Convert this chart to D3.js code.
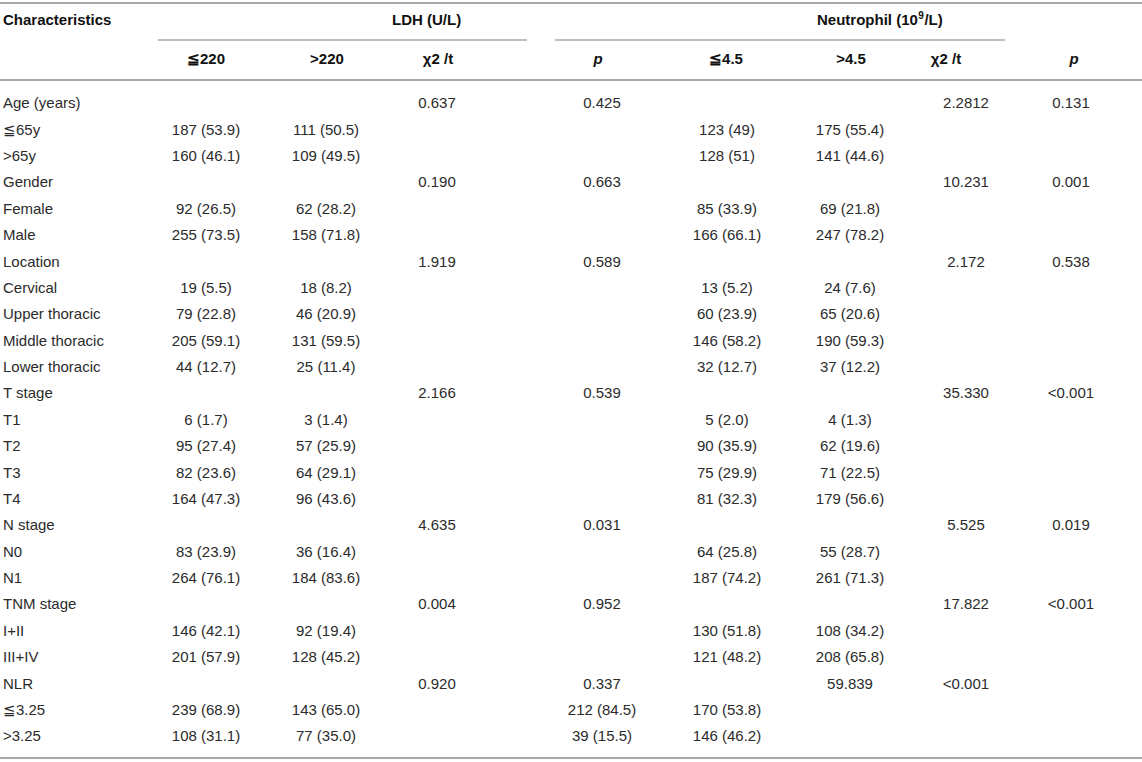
<!DOCTYPE html>
<html>
<head>
<meta charset="utf-8">
<script src="https://cdn.jsdelivr.net/npm/d3@7"></script>
<style>
  html, body { margin: 0; padding: 0; background: #fff; }
  svg { display: block; font-family: "Liberation Sans", Arial, Helvetica, sans-serif; }
</style>
</head>
<body>
<svg id="chart" width="1142" height="762"></svg>
<script>
// ---------------- data ----------------
const characteristics = ["Age (years)", "≦65y", ">65y", "Gender", "Female", "Male", "Location", "Cervical",
  "Upper thoracic", "Middle thoracic", "Lower thoracic", "T stage", "T1", "T2", "T3", "T4", "N stage", "N0", "N1",
  "TNM stage", "I+II", "III+IV", "NLR", "≦3.25", ">3.25"];

const ldhLow = ["", "187 (53.9)", "160 (46.1)", "", "92 (26.5)", "255 (73.5)", "", "19 (5.5)", "79 (22.8)", "205 (59.1)",
  "44 (12.7)", "", "6 (1.7)", "95 (27.4)", "82 (23.6)", "164 (47.3)", "", "83 (23.9)", "264 (76.1)", "", "146 (42.1)",
  "201 (57.9)", "", "239 (68.9)", "108 (31.1)"];
const ldhHigh = ["", "111 (50.5)", "109 (49.5)", "", "62 (28.2)", "158 (71.8)", "", "18 (8.2)", "46 (20.9)", "131 (59.5)",
  "25 (11.4)", "", "3 (1.4)", "57 (25.9)", "64 (29.1)", "96 (43.6)", "", "36 (16.4)", "184 (83.6)", "", "92 (19.4)",
  "128 (45.2)", "", "143 (65.0)", "77 (35.0)"];
const ldhChi = ["0.637", "", "", "0.190", "", "", "1.919", "", "", "", "", "2.166", "", "", "", "", "4.635", "", "",
  "0.004", "", "", "0.920", "", ""];
const ldhP = ["0.425", "", "", "0.663", "", "", "0.589", "", "", "", "", "0.539", "", "", "", "", "0.031", "", "",
  "0.952", "", "", "0.337", "212 (84.5)", "39 (15.5)"];
const neuLow = ["", "123 (49)", "128 (51)", "", "85 (33.9)", "166 (66.1)", "", "13 (5.2)", "60 (23.9)", "146 (58.2)",
  "32 (12.7)", "", "5 (2.0)", "90 (35.9)", "75 (29.9)", "81 (32.3)", "", "64 (25.8)", "187 (74.2)", "", "130 (51.8)",
  "121 (48.2)", "", "170 (53.8)", "146 (46.2)"];
const neuHigh = ["", "175 (55.4)", "141 (44.6)", "", "69 (21.8)", "247 (78.2)", "", "24 (7.6)", "65 (20.6)", "190 (59.3)",
  "37 (12.2)", "", "4 (1.3)", "62 (19.6)", "71 (22.5)", "179 (56.6)", "", "55 (28.7)", "261 (71.3)", "", "108 (34.2)",
  "208 (65.8)", "59.839", "", ""];
const neuChi = ["2.2812", "", "", "10.231", "", "", "2.172", "", "", "", "", "35.330", "", "", "", "", "5.525", "", "",
  "17.822", "", "", "<0.001", "", ""];
const neuP = ["0.131", "", "", "0.001", "", "", "0.538", "", "", "", "", "<0.001", "", "", "", "", "0.019", "", "",
  "<0.001", "", "", "", "", ""];

const columnKeys = ["ldhLow", "ldhHigh", "ldhChi", "ldhP", "neuLow", "neuHigh", "neuChi", "neuP"];
const columnHeaders = ["≦220", ">220", "χ2 /t", "p", "≦4.5", ">4.5", "χ2 /t", "p"];
const groupHeaders = ["LDH (U/L)", "Neutrophil (10", "9", "/L)"];
const stubHeader = "Characteristics";

const columns = [ldhLow, ldhHigh, ldhChi, ldhP, neuLow, neuHigh, neuChi, neuP];

// ---------------- layout ----------------
const svg = d3.select("#chart");
const W = 1142;
const lineColor = "#a8a8a8";
const bodyColor = "#2b2b2b";
const FS = 15;

const y = d3.scaleLinear().domain([0, characteristics.length - 1]).range([103, 736]);
const xCol = d3.scaleOrdinal().domain(columnKeys).range([206, 326, 437, 602, 727, 850, 966, 1071]);
const xHead = d3.scaleOrdinal().domain(columnKeys).range([206, 327, 438, 598, 726, 851, 946, 1074]);

// rules
svg.append("line").attr("x1", 0).attr("x2", W).attr("y1", 3).attr("y2", 3)
  .attr("stroke", lineColor).attr("stroke-width", 2);
svg.append("line").attr("x1", 158).attr("x2", 527).attr("y1", 40).attr("y2", 40)
  .attr("stroke", lineColor).attr("stroke-width", 1.5);
svg.append("line").attr("x1", 555).attr("x2", 1005).attr("y1", 40).attr("y2", 40)
  .attr("stroke", lineColor).attr("stroke-width", 1.5);
svg.append("line").attr("x1", 0).attr("x2", W).attr("y1", 80).attr("y2", 80)
  .attr("stroke", lineColor).attr("stroke-width", 2);
svg.append("line").attr("x1", 0).attr("x2", W).attr("y1", 758).attr("y2", 758)
  .attr("stroke", lineColor).attr("stroke-width", 2);

// header row 1
svg.append("text").attr("x", 3).attr("y", 25)
  .attr("font-size", FS).attr("font-weight", "bold").attr("fill", "#111").text(stubHeader);
svg.append("text").attr("x", 392).attr("y", 25)
  .attr("font-size", FS).attr("font-weight", "bold").attr("fill", "#111").text(groupHeaders[0]);
const nt = svg.append("g");
const part1 = nt.append("text").attr("x", 817).attr("y", 25)
  .attr("font-size", FS).attr("font-weight", "bold").attr("fill", "#111").text(groupHeaders[1]);
const w1 = part1.node().getComputedTextLength();
const sup = nt.append("text").attr("x", 817 + w1 + 0.5).attr("y", 19)
  .attr("font-size", 10).attr("font-weight", "bold").attr("fill", "#111").text(groupHeaders[2]);
const w2 = sup.node().getComputedTextLength();
nt.append("text").attr("x", 817 + w1 + w2 + 1).attr("y", 25)
  .attr("font-size", FS).attr("font-weight", "bold").attr("fill", "#111").text(groupHeaders[3]);

// header row 2
svg.selectAll("text.colhead").data(columnKeys).join("text")
  .attr("class", "colhead")
  .attr("x", d => xHead(d)).attr("y", 59).attr("dy", "0.35em")
  .attr("text-anchor", "middle").attr("font-size", FS).attr("font-weight", "bold").attr("fill", "#111")
  .attr("font-style", (d, i) => columnHeaders[i] === "p" ? "italic" : "normal")
  .text((d, i) => columnHeaders[i]);

// stub column
svg.selectAll("text.stub").data(characteristics).join("text")
  .attr("class", "stub")
  .attr("x", 3).attr("y", (d, i) => y(i)).attr("dy", "0.35em")
  .attr("font-size", FS).attr("fill", bodyColor).text(d => d);

// body cells
const cells = [];
columns.forEach((col, ci) => col.forEach((v, ri) => { if (v) cells.push({ key: columnKeys[ci], row: ri, v }); }));
svg.selectAll("text.cell").data(cells).join("text")
  .attr("class", "cell")
  .attr("x", d => xCol(d.key)).attr("y", d => y(d.row)).attr("dy", "0.35em")
  .attr("text-anchor", "middle").attr("font-size", FS).attr("fill", bodyColor).text(d => d.v);
</script>
</body>
</html>
